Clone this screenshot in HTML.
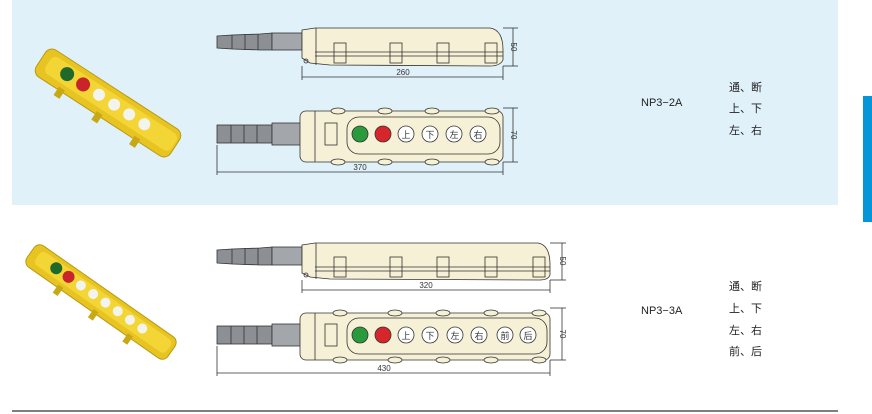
<!DOCTYPE html>
<html><head><meta charset="utf-8"><style>
html,body{margin:0;padding:0;background:#fff;}
svg{display:block;font-family:"Liberation Sans","Noto Sans CJK SC",sans-serif;}
</style></head><body>
<svg width="872" height="414" viewBox="0 0 872 414" xmlns="http://www.w3.org/2000/svg">
<rect x="12" y="0" width="826" height="205" fill="#e0f1fa"/>
<rect x="863" y="96" width="9" height="126" fill="#0496d8"/>
<line x1="12" y1="411" x2="838" y2="411" stroke="#333" stroke-width="1.2"/>

<!-- photo top -->
<g transform="translate(108,103) rotate(33)">
<rect x="-80" y="-16" width="160" height="32" rx="8" fill="#e8c422" stroke="#b89a10"/>
<rect x="-72" y="-11" width="150" height="20" rx="6" fill="#f3d535"/>
<rect x="-50" y="13" width="7" height="10" fill="#c9a816"/><rect x="-5" y="13" width="7" height="10" fill="#c9a816"/><rect x="40" y="13" width="7" height="10" fill="#c9a816"/>
<circle cx="-50" cy="-2" r="7" fill="#1f6a2a"/><circle cx="-31" cy="-2" r="7" fill="#c8242a"/>
<circle cx="-12" cy="-2" r="6" fill="#f4f4ee"/><circle cx="6" cy="-2" r="6" fill="#f4f4ee"/><circle cx="24" cy="-2" r="6" fill="#f4f4ee"/><circle cx="42" cy="-2" r="6" fill="#f4f4ee"/>
</g>
<!-- photo bottom -->
<g transform="translate(101,302) rotate(35)">
<rect x="-86" y="-13" width="172" height="26" rx="7" fill="#e8c422" stroke="#b89a10"/>
<rect x="-78" y="-9" width="160" height="16" rx="5" fill="#f3d535"/>
<rect x="-45" y="10" width="6" height="10" fill="#c9a816"/><rect x="-2" y="10" width="6" height="10" fill="#c9a816"/><rect x="40" y="10" width="6" height="10" fill="#c9a816"/>
<circle cx="-56" cy="-2" r="6" fill="#1f6a2a"/><circle cx="-41" cy="-2" r="6" fill="#c8242a"/>
<circle cx="-26" cy="-2" r="5" fill="#f4f4ee"/><circle cx="-11" cy="-2" r="5" fill="#f4f4ee"/><circle cx="4" cy="-2" r="5" fill="#f4f4ee"/><circle cx="19" cy="-2" r="5" fill="#f4f4ee"/><circle cx="34" cy="-2" r="5" fill="#f4f4ee"/><circle cx="49" cy="-2" r="5" fill="#f4f4ee"/>
</g>

<g stroke="#333" stroke-width="0.8">
<!-- TOP side view -->
<path d="M217 36 L232 35 L260 34 L272 33 L272 50 L260 50 L232 49 L217 48 Z" fill="#8c8f93"/>
<line x1="232" y1="35" x2="232" y2="49"/><line x1="245" y1="34" x2="245" y2="50"/><line x1="258" y1="34" x2="258" y2="50"/>
<rect x="272" y="33" width="30" height="17" fill="#a3a6aa"/>
<path d="M302 30 L315 28 L360 28 L400 28 L490 28 Q503 30 503 50 L503 60 Q500 66 490 66 L330 65 L310 63 L302 58 Z" fill="#f5f0d6"/>
<line x1="315" y1="52" x2="503" y2="52"/><line x1="315" y1="56" x2="503" y2="56"/>
<rect x="334" y="43" width="12" height="20" fill="none"/><rect x="390" y="43" width="12" height="20" fill="none"/><rect x="437" y="43" width="12" height="20" fill="none"/><rect x="485" y="43" width="12" height="20" fill="none"/>
<line x1="316" y1="28" x2="316" y2="65"/>
<circle cx="306" cy="61" r="2" fill="none"/>
<line x1="503" y1="28" x2="518" y2="28"/><line x1="503" y1="66" x2="518" y2="66"/><line x1="513" y1="28" x2="513" y2="66"/>
<line x1="302" y1="66" x2="302" y2="80"/><line x1="503" y1="66" x2="503" y2="80"/><line x1="302" y1="77" x2="503" y2="77"/>
<!-- TOP front view -->
<rect x="217" y="125" width="55" height="18" fill="#8c8f93"/>
<line x1="231" y1="125" x2="231" y2="143"/><line x1="244" y1="125" x2="244" y2="143"/><line x1="257" y1="125" x2="257" y2="143"/>
<rect x="272" y="123" width="30" height="22" fill="#a3a6aa"/>
<rect x="300" y="111" width="203" height="51" rx="6" fill="#f5f0d6"/>
<ellipse cx="338" cy="111" rx="7" ry="3" fill="#f5f0d6"/><ellipse cx="385" cy="111" rx="7" ry="3" fill="#f5f0d6"/><ellipse cx="432" cy="111" rx="7" ry="3" fill="#f5f0d6"/><ellipse cx="492" cy="111" rx="7" ry="3" fill="#f5f0d6"/>
<ellipse cx="338" cy="162" rx="7" ry="3" fill="#f5f0d6"/><ellipse cx="385" cy="162" rx="7" ry="3" fill="#f5f0d6"/><ellipse cx="432" cy="162" rx="7" ry="3" fill="#f5f0d6"/><ellipse cx="492" cy="162" rx="7" ry="3" fill="#f5f0d6"/>
<rect x="347" y="117" width="153" height="37" rx="12" fill="#f5f0d6"/>
<rect x="325" y="123" width="12" height="22" fill="none"/>
<line x1="315" y1="111" x2="315" y2="162"/>
<circle cx="360" cy="134" r="8" fill="#2b9a3d"/><circle cx="383" cy="134" r="8" fill="#d7262b"/>
<circle cx="406" cy="134" r="8" fill="#fff"/><circle cx="430" cy="134" r="8" fill="#fff"/><circle cx="454" cy="134" r="8" fill="#fff"/><circle cx="478" cy="134" r="8" fill="#fff"/>
<line x1="503" y1="108" x2="518" y2="108"/><line x1="503" y1="162" x2="518" y2="162"/><line x1="513" y1="108" x2="513" y2="162"/>
<line x1="217" y1="145" x2="217" y2="175"/><line x1="503" y1="162" x2="503" y2="175"/><line x1="217" y1="172" x2="503" y2="172"/>

<!-- BOTTOM side view -->
<path d="M217 250 L232 249 L260 248 L272 247 L272 265 L260 265 L232 264 L217 263 Z" fill="#8c8f93"/>
<line x1="232" y1="249" x2="232" y2="264"/><line x1="245" y1="248" x2="245" y2="265"/><line x1="258" y1="248" x2="258" y2="265"/>
<rect x="272" y="247" width="30" height="18" fill="#a3a6aa"/>
<path d="M302 245 L315 243 L360 243 L538 243 Q550 245 550 265 L550 275 Q548 280 540 280 L330 279 L310 277 L302 273 Z" fill="#f5f0d6"/>
<line x1="315" y1="267" x2="550" y2="267"/><line x1="315" y1="271" x2="550" y2="271"/>
<rect x="334" y="257" width="12" height="20" fill="none"/><rect x="390" y="257" width="12" height="20" fill="none"/><rect x="437" y="257" width="12" height="20" fill="none"/><rect x="485" y="257" width="12" height="20" fill="none"/><rect x="533" y="257" width="12" height="20" fill="none"/>
<line x1="316" y1="243" x2="316" y2="279"/>
<circle cx="306" cy="275" r="2" fill="none"/>
<line x1="550" y1="243" x2="566" y2="243"/><line x1="550" y1="280" x2="566" y2="280"/><line x1="562" y1="243" x2="562" y2="280"/>
<line x1="302" y1="280" x2="302" y2="293"/><line x1="550" y1="280" x2="550" y2="293"/><line x1="302" y1="290" x2="550" y2="290"/>
<!-- BOTTOM front view -->
<rect x="217" y="326" width="55" height="18" fill="#8c8f93"/>
<line x1="231" y1="326" x2="231" y2="344"/><line x1="244" y1="326" x2="244" y2="344"/><line x1="257" y1="326" x2="257" y2="344"/>
<rect x="272" y="324" width="30" height="22" fill="#a3a6aa"/>
<rect x="300" y="313" width="250" height="47" rx="6" fill="#f5f0d6"/>
<ellipse cx="340" cy="313" rx="7" ry="3" fill="#f5f0d6"/><ellipse cx="395" cy="313" rx="7" ry="3" fill="#f5f0d6"/><ellipse cx="443" cy="313" rx="7" ry="3" fill="#f5f0d6"/><ellipse cx="491" cy="313" rx="7" ry="3" fill="#f5f0d6"/><ellipse cx="539" cy="313" rx="7" ry="3" fill="#f5f0d6"/>
<ellipse cx="340" cy="360" rx="7" ry="3" fill="#f5f0d6"/><ellipse cx="395" cy="360" rx="7" ry="3" fill="#f5f0d6"/><ellipse cx="443" cy="360" rx="7" ry="3" fill="#f5f0d6"/><ellipse cx="491" cy="360" rx="7" ry="3" fill="#f5f0d6"/><ellipse cx="539" cy="360" rx="7" ry="3" fill="#f5f0d6"/>
<rect x="347" y="318" width="200" height="36" rx="12" fill="#f5f0d6"/>
<rect x="325" y="324" width="12" height="22" fill="none"/>
<line x1="315" y1="313" x2="315" y2="360"/>
<circle cx="360" cy="335" r="8" fill="#2b9a3d"/><circle cx="383" cy="335" r="8" fill="#d7262b"/>
<circle cx="406" cy="335" r="8" fill="#fff"/><circle cx="430" cy="335" r="8" fill="#fff"/><circle cx="455" cy="335" r="8" fill="#fff"/><circle cx="479" cy="335" r="8" fill="#fff"/><circle cx="505" cy="335" r="8" fill="#fff"/><circle cx="528" cy="335" r="8" fill="#fff"/>
<line x1="550" y1="308" x2="566" y2="308"/><line x1="550" y1="360" x2="566" y2="360"/><line x1="562" y1="308" x2="562" y2="360"/>
<line x1="217" y1="346" x2="217" y2="376"/><line x1="550" y1="360" x2="550" y2="376"/><line x1="217" y1="373" x2="550" y2="373"/>
</g>
<g font-size="8" fill="#333" text-anchor="middle">
<text x="403" y="75">260</text>
<text x="360" y="170">370</text>
<text x="426" y="288">320</text>
<text x="384" y="371">430</text>
<text transform="translate(511,47) rotate(90)">50</text>
<text transform="translate(511,135) rotate(90)">70</text>
<text transform="translate(560,261) rotate(90)">50</text>
<text transform="translate(560,334) rotate(90)">70</text>
</g>
<g font-size="9" fill="#333" text-anchor="middle">
<text x="406" y="138">上</text><text x="430" y="138">下</text><text x="454" y="138">左</text><text x="478" y="138">右</text>
<text x="406" y="339">上</text><text x="430" y="339">下</text><text x="455" y="339">左</text><text x="479" y="339">右</text><text x="505" y="339">前</text><text x="528" y="339">后</text>
</g>
<g font-size="11" fill="#222">
<text x="641" y="106">NP3−2A</text>
<text x="729" y="91">通、断</text><text x="729" y="112">上、下</text><text x="729" y="134">左、右</text>
<text x="641" y="314">NP3−3A</text>
<text x="729" y="290">通、断</text><text x="729" y="312">上、下</text><text x="729" y="334">左、右</text><text x="729" y="355">前、后</text>
</g>
</svg>
</body></html>
